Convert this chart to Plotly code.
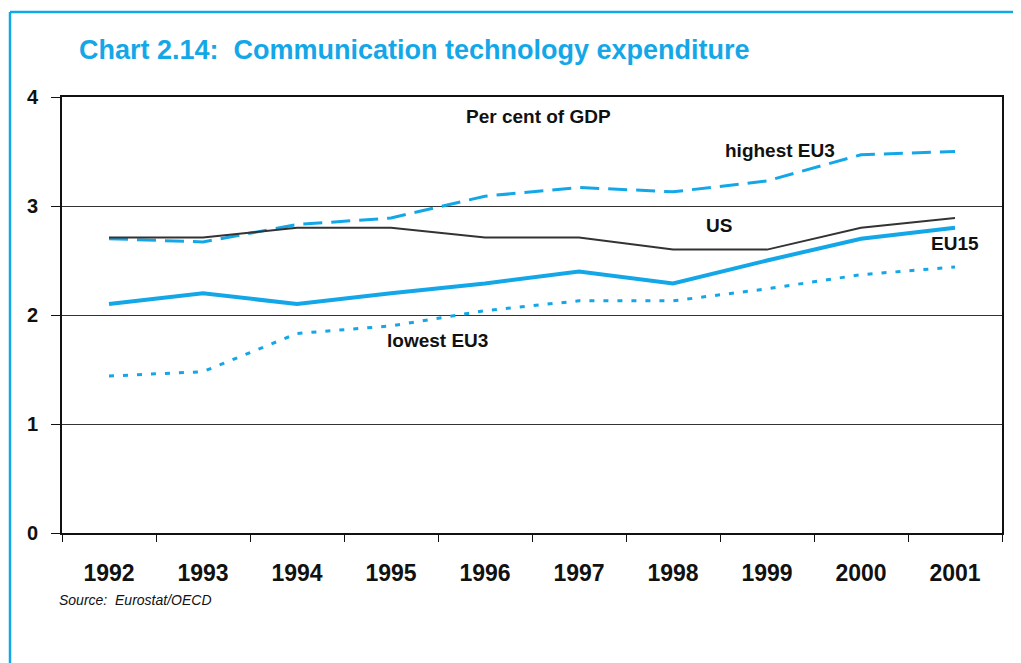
import plotly.graph_objects as go

years = ["1992", "1993", "1994", "1995", "1996", "1997", "1998", "1999", "2000", "2001"]
us = [2.71, 2.71, 2.80, 2.80, 2.71, 2.71, 2.60, 2.60, 2.80, 2.89]
eu15 = [2.10, 2.20, 2.10, 2.20, 2.29, 2.40, 2.29, 2.50, 2.70, 2.80]
highest_eu3 = [2.70, 2.67, 2.83, 2.89, 3.09, 3.17, 3.13, 3.23, 3.47, 3.50]
lowest_eu3 = [1.44, 1.48, 1.83, 1.90, 2.04, 2.13, 2.13, 2.24, 2.37, 2.44]
y_ticks = [0, 1, 2, 3, 4]

BLUE = "#14a7e8"
FONT = "Liberation Sans, Arial"

fig = go.Figure()
fig.add_trace(go.Scatter(x=years, y=highest_eu3, mode="lines", name="highest EU3",
                         line=dict(color=BLUE, width=3, dash="19px,9px")))
fig.add_trace(go.Scatter(x=years, y=lowest_eu3, mode="lines", name="lowest EU3",
                         line=dict(color=BLUE, width=3, dash="5px,9px")))
fig.add_trace(go.Scatter(x=years, y=us, mode="lines", name="US",
                         line=dict(color="#333333", width=2)))
fig.add_trace(go.Scatter(x=years, y=eu15, mode="lines", name="EU15",
                         line=dict(color=BLUE, width=4)))

# page body has an 8px margin; compensate so screen coords match
OFF = 8
PL, PR, PT, PB = 62, 1002, 97, 533  # plot area in screen px
W, H = 1021 - OFF, 663 - OFF
L, T = PL - OFF, PT - OFF
R = W - (PR - OFF)
B = H - (PB - OFF)
pw, ph = PR - PL, PB - PT

def px_x(x):
    return (x - PL) / pw

def px_y(y):
    return (PB - y) / ph

annotations = [
    dict(text="<b>Per cent of GDP</b>", x=px_x(538), y=px_y(117)),
    dict(text="<b>highest EU3</b>", x=px_x(780), y=px_y(150)),
    dict(text="<b>US</b>", x=px_x(719), y=px_y(226)),
    dict(text="<b>EU15</b>", x=px_x(955), y=px_y(243)),
    dict(text="<b>lowest EU3</b>", x=px_x(437), y=px_y(340)),
]
for a in annotations:
    a.update(xref="paper", yref="paper", showarrow=False, xanchor="center", yanchor="middle",
             font=dict(family=FONT, size=19, color="#111111"))

annotations.append(dict(text="<b>Chart 2.14:  Communication technology expenditure</b>",
                        xref="paper", yref="paper", x=px_x(77), y=px_y(50),
                        xanchor="left", yanchor="middle", showarrow=False,
                        font=dict(family=FONT, size=27, color=BLUE)))
annotations.append(dict(text="<i>Source:  Eurostat/OECD</i>",
                        xref="paper", yref="paper", x=px_x(57), y=px_y(600),
                        xanchor="left", yanchor="middle", showarrow=False,
                        font=dict(family=FONT, size=14, color="#111111")))

shapes = [
    dict(type="line", xref="paper", yref="paper", x0=px_x(10), x1=px_x(10), y0=px_y(12), y1=px_y(700),
         line=dict(color=BLUE, width=2.5)),
    dict(type="line", xref="paper", yref="paper", x0=px_x(10), x1=px_x(1019), y0=px_y(12), y1=px_y(12),
         line=dict(color=BLUE, width=2.5)),
    dict(type="line", xref="paper", yref="paper", x0=px_x(1019), x1=px_x(1019), y0=px_y(12), y1=px_y(700),
         line=dict(color=BLUE, width=2.5)),
]

fig.update_layout(
    width=W, height=H,
    margin=dict(l=L, r=R, t=T, b=B, pad=0),
    paper_bgcolor="white", plot_bgcolor="white",
    showlegend=False,
    annotations=annotations,
    shapes=shapes,
    xaxis=dict(type="category", tickson="boundaries", ticks="outside", ticklen=7,
               tickcolor="#111111", tickwidth=1, ticklabelstandoff=18,
               showline=True, linecolor="#111111", linewidth=2, mirror=True,
               showgrid=False, zeroline=False,
               tickfont=dict(family=FONT, size=23, color="#111111", weight="bold"),
               range=[-0.5, len(years) - 0.5]),
    yaxis=dict(range=[0, 4], tickvals=y_ticks, ticks="outside", ticklen=9,
               tickcolor="#111111", tickwidth=1, ticklabelstandoff=9,
               showline=True, linecolor="#111111", linewidth=2, mirror=True,
               showgrid=True, gridcolor="#333333", gridwidth=1, zeroline=False,
               tickfont=dict(family=FONT, size=20, color="#111111", weight="bold")),
)

fig.write_html("out.html")
